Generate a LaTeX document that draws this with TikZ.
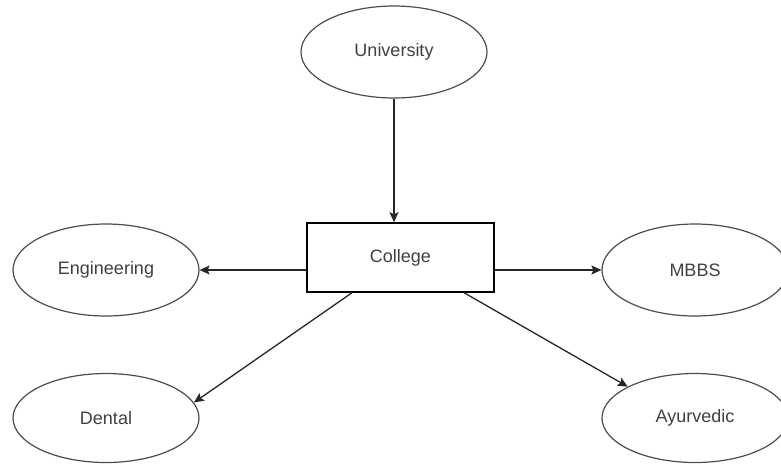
\documentclass[tikz,border=0pt]{standalone}
\usepackage{fontspec}
\setmainfont{Liberation Sans}
\usetikzlibrary{shapes.geometric, arrows.meta}

\begin{document}
\begin{tikzpicture}[x=0.5pt,y=-0.5pt]
\tikzstyle{entidade}=[ellipse, draw=black!70, line width=0.6pt, minimum width=93pt, minimum height=46pt, inner sep=0pt, text=black!75, font=\fontsize{9}{11}\selectfont]
\tikzstyle{caixa}=[rectangle, draw=black, line width=0.8pt, minimum width=93.5pt, minimum height=34.5pt, inner sep=0pt, text=black!75, font=\fontsize{9}{11}\selectfont]
\tikzstyle{seta}=[-{Stealth[length=5pt, width=4.5pt, inset=1pt]}, draw=black!85, line width=0.65pt]
 \clip (0,0) rectangle (781,463);
 \node[entidade] (university) at (394,52) {University};
 \node[caixa] (college) at (400.5,257.5) {College};
 \node[entidade] (engineering) at (106,270) {Engineering};
 \node[entidade] (mbbs) at (695,270) {MBBS};
 \node[entidade, minimum height=44.5pt] (dental) at (106,418) {Dental};
 \node[entidade, minimum height=44.5pt] (ayurvedic) at (695,418) {Ayurvedic};
 \draw[seta] (university.south) -- (university.south |- college.north);
 \draw[seta] (college.west |- engineering.east) -- (engineering.east);
 \draw[seta] (college.east |- mbbs.west) -- (mbbs.west);
 \draw[seta] (college.216) -- (dental.10);
 \draw[seta] (college.331) -- (ayurvedic.155);
\end{tikzpicture}
\end{document}
